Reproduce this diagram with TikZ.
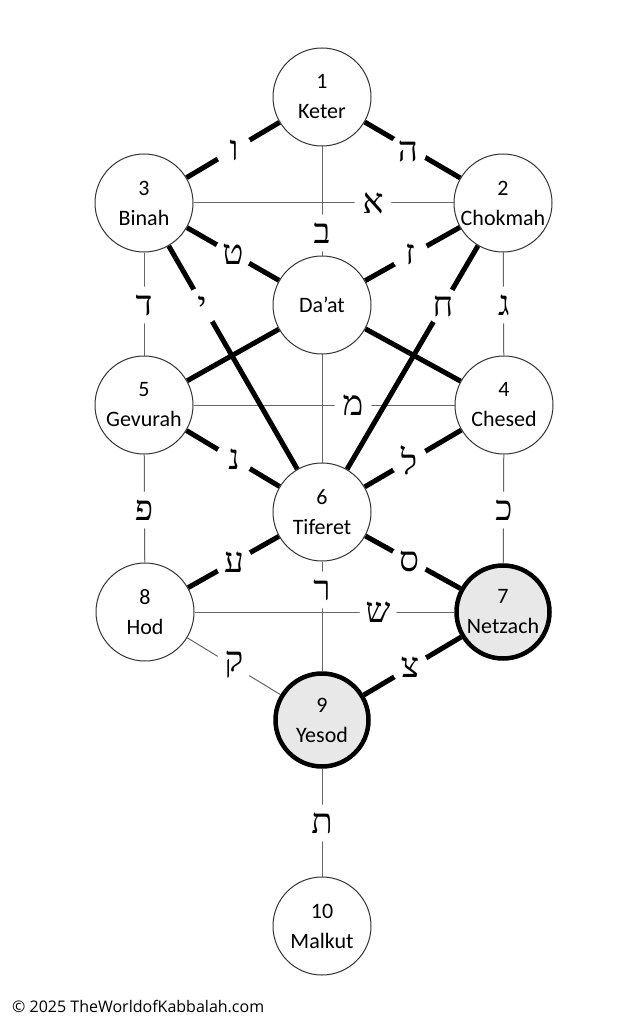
\documentclass[tikz,border=0pt]{standalone}
\usepackage{fontspec}
\setmainfont{Carlito}
\newfontfamily\hebfont[Script=Hebrew]{Liberation Serif}
\newfontfamily\copyfont{Open Sans}
\pgfdeclarelayer{bg}
\pgfdeclarelayer{edges}
\pgfdeclarelayer{labels}
\pgfsetlayers{bg,edges,labels,main}
\tikzset{
  seph/.style={circle, draw=black!80, line width=1pt, fill=white, minimum size=98pt, inner sep=0pt, align=center, font=\fontsize{22}{30}\selectfont},
  hlseph/.style={seph, fill=black!9, draw=black, line width=4.5pt, minimum size=93pt},
  thinpath/.style={draw=black!60, line width=1pt},
  thickpath/.style={draw=black, line width=5pt},
  lab/.style={circle, fill=white, inner sep=0pt, minimum size=37pt, font=\hebfont\fontsize{35}{35}\selectfont},
}
\begin{document}
\begin{tikzpicture}[x=1pt,y=-1pt]
\useasboundingbox (0,0) rectangle (633,1024);
\begin{pgfonlayer}{bg}
\fill[white] (0,0) rectangle (633,1024);
\end{pgfonlayer}
% sephirot
\node[seph] (keter)   at (322,97)  {1\\Keter};
\node[seph] (chokmah) at (503,203) {2\\Chokmah};
\node[seph] (binah)   at (144,203) {3\\Binah};
\node[seph] (daat)    at (322,305) {Da’at};
\node[seph] (chesed)  at (504,405) {4\\Chesed};
\node[seph] (gevurah) at (144,405) {5\\Gevurah};
\node[seph] (tiferet) at (322,512) {6\\Tiferet};
\node[hlseph] (netzach) at (503,612) {7\\Netzach};
\node[seph] (hod)     at (145,612) {8\\Hod};
\node[hlseph] (yesod) at (322,720) {9\\Yesod};
\node[seph] (malkut)  at (322,926) {10\\Malkut};
% paths
\begin{pgfonlayer}{edges}
\draw[thinpath] (binah) -- (chokmah);
\draw[thinpath] (keter) -- (tiferet);
\draw[thinpath] (binah) -- (gevurah);
\draw[thinpath] (chokmah) -- (chesed);
\draw[thinpath] (gevurah) -- (chesed);
\draw[thinpath] (gevurah) -- (hod);
\draw[thinpath] (chesed) -- (netzach);
\draw[thinpath] (tiferet) -- (yesod);
\draw[thinpath] (hod) -- (netzach);
\draw[thinpath] (hod) -- (yesod);
\draw[thinpath] (yesod) -- (malkut);
\draw[thickpath] (keter) -- (binah);
\draw[thickpath] (keter) -- (chokmah);
\draw[thickpath] (binah) -- (daat);
\draw[thickpath] (chokmah) -- (daat);
\draw[thickpath] (binah) -- (tiferet);
\draw[thickpath] (chokmah) -- (tiferet);
\draw[thickpath] (daat) -- (gevurah);
\draw[thickpath] (daat) -- (chesed);
\draw[thickpath] (gevurah) -- (tiferet);
\draw[thickpath] (chesed) -- (tiferet);
\draw[thickpath] (tiferet) -- (hod);
\draw[thickpath] (tiferet) -- (netzach);
\draw[thickpath] (netzach) -- (yesod);
\end{pgfonlayer}
% letters
\begin{pgfonlayer}{labels}
\node[lab] (lAleph)  at (373,203) {א};
\node[lab] (lBet)    at (322,233) {ב};
\node[lab] (lGimel)  at (504,305) {ג};
\node[lab] (lDalet)  at (144,305) {ד};
\node[lab] (lHe)     at (408,151) {ה};
\node[lab] (lVav)    at (234,150) {ו};
\node[lab] (lZayin)  at (410,254) {ז};
\node[lab] (lChet)   at (443,306) {ח};
\node[lab] (lTet)    at (233,254) {ט};
\node[lab] (lYod)    at (202,306) {י};
\node[lab] (lKaf)    at (504,510) {כ};
\node[lab] (lLamed)  at (409,460) {ל};
\node[lab] (lMem)    at (353,405) {מ};
\node[lab] (lNun)    at (234,459) {נ};
\node[lab] (lSamekh) at (409,561) {ס};
\node[lab] (lAyin)   at (234,562) {ע};
\node[lab] (lPe)     at (144,510) {פ};
\node[lab] (lTsadi)  at (410,667) {צ};
\node[lab] (lQof)    at (234,665) {ק};
\node[lab] (lResh)   at (322,590) {ר};
\node[lab] (lShin)   at (378,612) {ש};
\node[lab] (lTav)    at (322,823) {ת};
\end{pgfonlayer}
\node[anchor=west, inner sep=0pt, font=\copyfont\fontsize{16}{18}\selectfont] (copy) at (12,1006) {© 2025 TheWorldofKabbalah.com};
\end{tikzpicture}
\end{document}
